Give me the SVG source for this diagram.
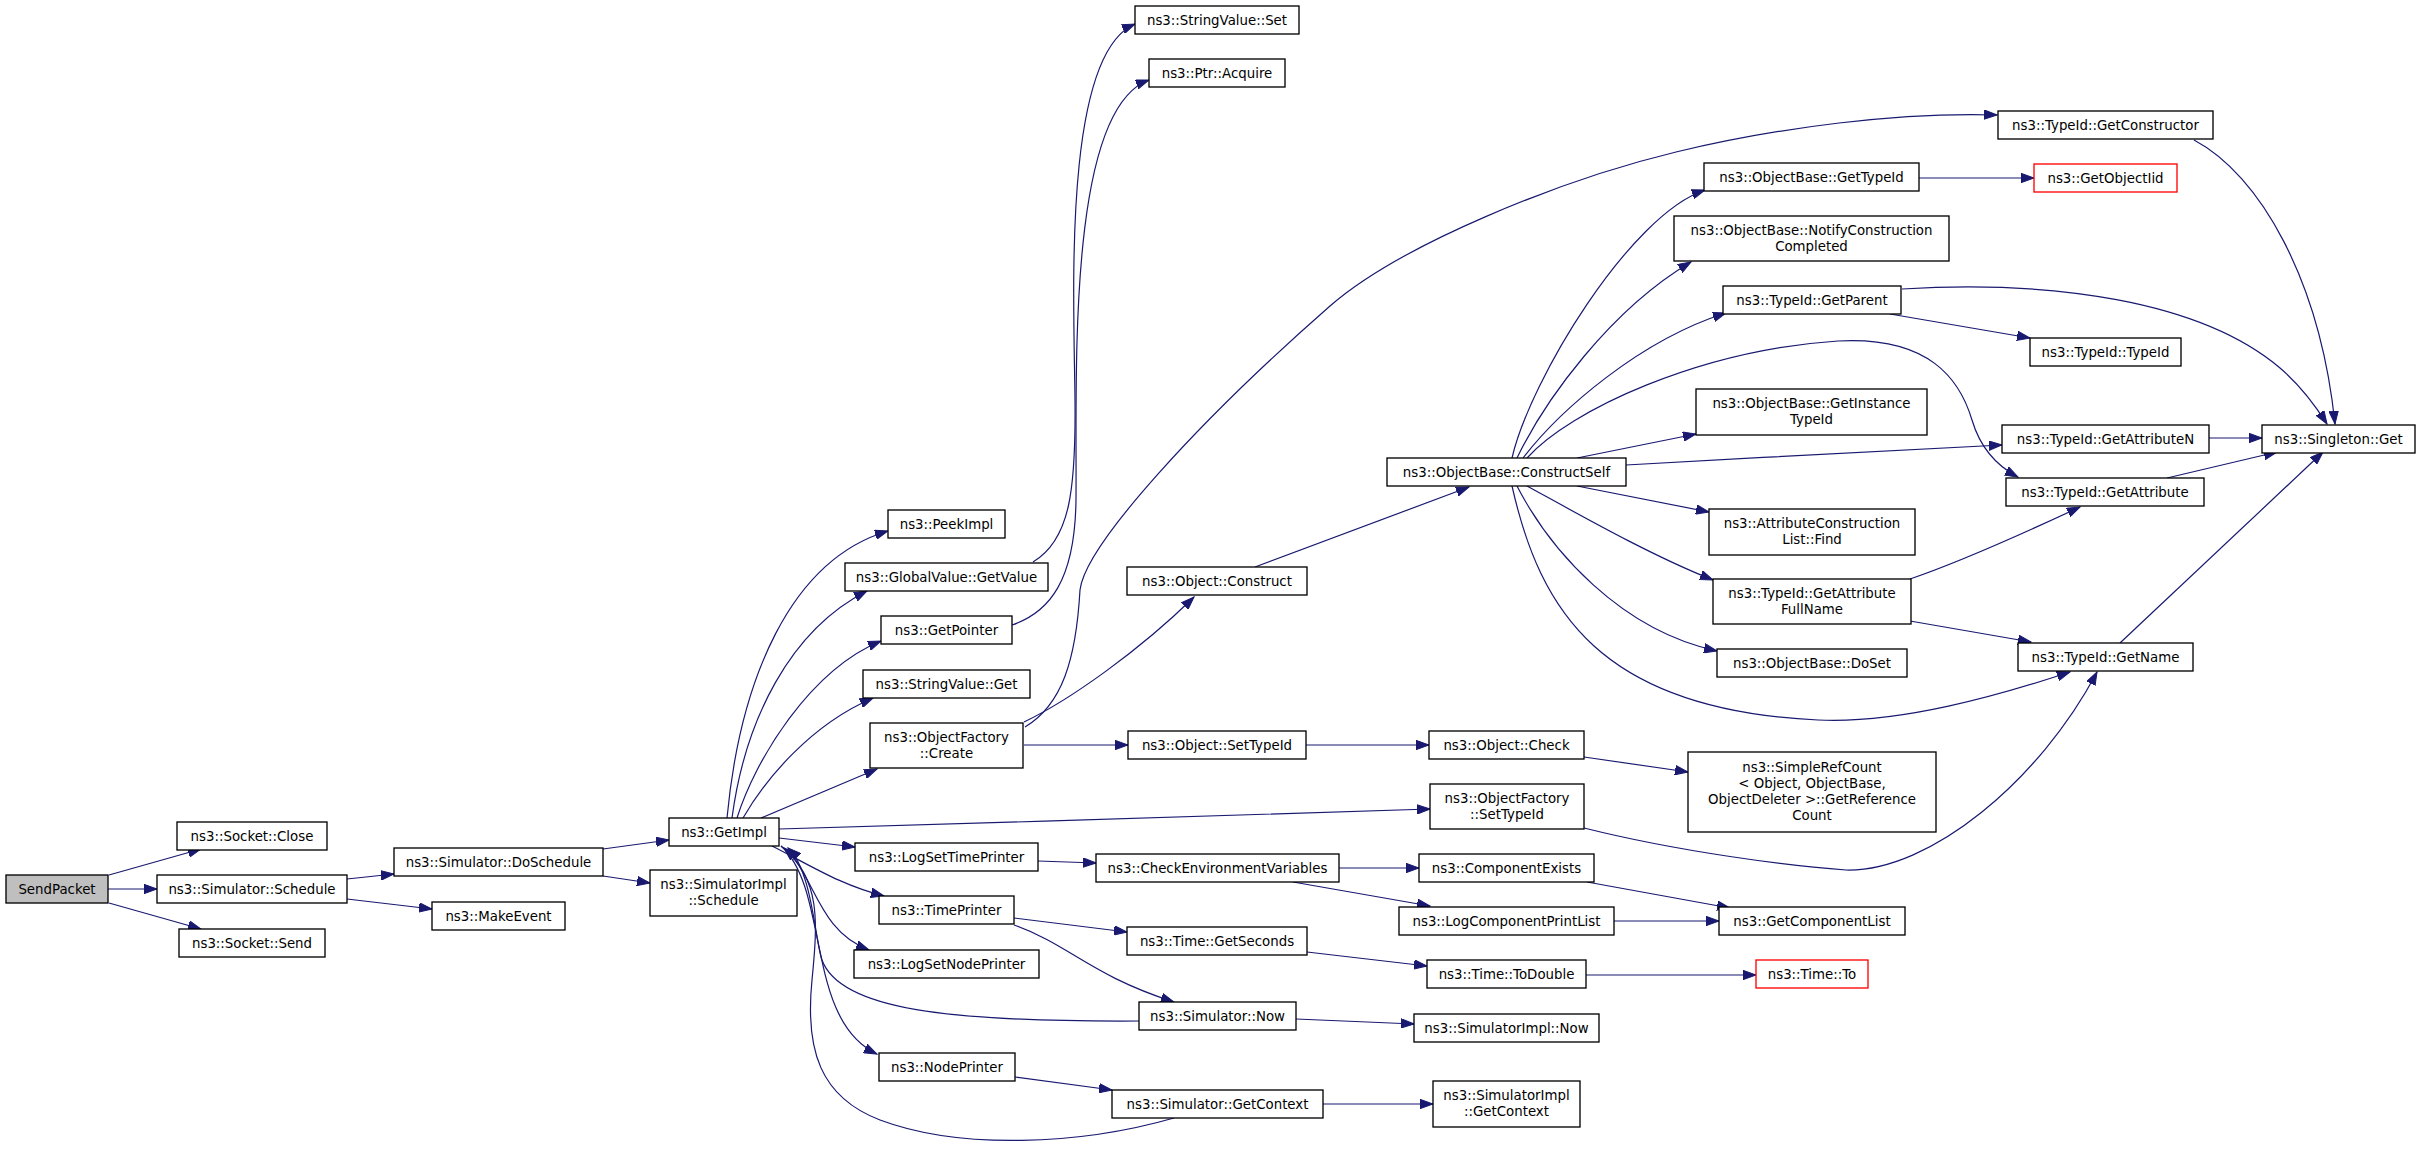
<svg xmlns="http://www.w3.org/2000/svg" width="2421" height="1150" viewBox="0 0 2421 1150">
<style>
.n rect{fill:#fff;stroke:#000;stroke-width:1.33}
.n.root rect{fill:#bfbfbf}
.n.red rect{stroke:#f00}
.n text{font-family:"DejaVu Sans","Liberation Sans",sans-serif;font-size:13.33px;text-anchor:middle;fill:#000}
#edges path{fill:none;stroke:#191970;stroke-width:1.2;marker-end:url(#a)}
</style>
<defs>
<marker id="a" markerUnits="userSpaceOnUse" viewBox="0 0 14 10" markerWidth="14" markerHeight="10" refX="13" refY="5" orient="auto">
<path d="M0,0.3 L13,5 L0,9.7 z" fill="#191970" stroke="#191970" stroke-width="1"/>
</marker>
</defs>
<rect width="2421" height="1150" fill="#fff"/>
<g id="edges">
<path d="M109,875 L201,849"/>
<path d="M108,889 L157,889"/>
<path d="M109,903 L201,929"/>
<path d="M347,879 L394,874"/>
<path d="M347,899 L432,909"/>
<path d="M603,849 L669,840"/>
<path d="M603,876 L650,883"/>
<path d="M727,818 C740,680 790,560 888,531"/>
<path d="M732,818 C745,720 790,630 867,591"/>
<path d="M737,818 C755,760 810,670 881,641"/>
<path d="M743,818 C765,780 810,725 873,698"/>
<path d="M761,818 L877,769"/>
<path d="M779,829 C1000,823 1200,816 1430,809"/>
<path d="M779,838 L855,847"/>
<path d="M772,846 C810,865 840,885 884,896"/>
<path d="M781,846 C815,870 815,930 869,950"/>
<path d="M781,846 C830,890 805,1020 877,1054"/>
<path d="M1033,562 C1070,540 1076,490 1075,400 C1074,300 1062,55 1135,24"/>
<path d="M1012,625 C1050,612 1075,580 1076,500 C1077,380 1066,110 1149,80"/>
<path d="M1025,727 C1062,705 1076,660 1080,590 C1085,545 1200,420 1330,306 C1400,245 1560,180 1676,152 C1780,127 1900,112 1997,115"/>
<path d="M1024,722 C1070,700 1140,650 1194,597"/>
<path d="M1024,745 L1128,745"/>
<path d="M1255,567 L1469,487"/>
<path d="M1306,745 L1429,745"/>
<path d="M1584,757 L1688,772"/>
<path d="M1512,458 C1530,380 1630,215 1705,190"/>
<path d="M1517,458 C1545,400 1610,310 1691,262"/>
<path d="M1523,458 C1560,410 1640,340 1726,313"/>
<path d="M1577,458 L1696,434"/>
<path d="M1626,465 C1750,458 1900,450 2002,445"/>
<path d="M1527,458 C1570,410 1700,350 1838,341 C1930,336 1960,380 1972,420 C1980,447 1995,465 2018,477"/>
<path d="M1577,486 L1709,512"/>
<path d="M1527,486 C1580,515 1650,555 1713,580"/>
<path d="M1517,486 C1550,550 1620,630 1717,651"/>
<path d="M1512,486 C1540,610 1600,710 1818,720 C1900,724 2000,695 2070,672"/>
<path d="M1919,178 L2034,178"/>
<path d="M1890,314 L2030,338"/>
<path d="M1902,289 C2050,280 2200,300 2280,368 C2300,385 2315,405 2327,424"/>
<path d="M2194,140 C2260,175 2320,280 2335,424"/>
<path d="M2208,438 L2262,438"/>
<path d="M2167,478 L2277,452"/>
<path d="M1910,579 C1960,562 2020,535 2080,507"/>
<path d="M1910,621 L2031,642"/>
<path d="M2120,643 L2323,452"/>
<path d="M1584,828 C1680,852 1790,866 1846,870 C1930,872 2040,780 2097,672"/>
<path d="M1038,861 L1096,863"/>
<path d="M1339,868 L1419,868"/>
<path d="M1293,882 L1430,906"/>
<path d="M1587,882 L1730,908"/>
<path d="M1614,921 L1719,921"/>
<path d="M1014,918 L1127,932"/>
<path d="M1014,925 C1070,945 1090,975 1174,1002"/>
<path d="M1307,952 L1427,966"/>
<path d="M1586,975 L1756,975"/>
<path d="M1139,1021 C950,1022 840,1010 822,960 C815,940 812,870 788,848"/>
<path d="M1296,1019 L1414,1024"/>
<path d="M1015,1077 L1112,1090"/>
<path d="M1174,1118 C1080,1145 960,1150 880,1120 C820,1097 805,1050 812,980 C818,920 820,880 784,848"/>
<path d="M1323,1104 L1433,1104"/>
</g>
<g id="n1" class="n root"><rect x="6" y="875" width="102" height="28"/><text x="57" y="893.7">SendPacket</text></g>
<g id="n2" class="n"><rect x="177" y="822" width="150" height="28"/><text x="252" y="840.7">ns3::Socket::Close</text></g>
<g id="n3" class="n"><rect x="157" y="875" width="190" height="28"/><text x="252" y="893.7">ns3::Simulator::Schedule</text></g>
<g id="n4" class="n"><rect x="179" y="929" width="146" height="28"/><text x="252" y="947.7">ns3::Socket::Send</text></g>
<g id="n5" class="n"><rect x="394" y="848" width="209" height="28"/><text x="498.5" y="866.7">ns3::Simulator::DoSchedule</text></g>
<g id="n6" class="n"><rect x="432" y="902" width="133" height="28"/><text x="498.5" y="920.7">ns3::MakeEvent</text></g>
<g id="n7" class="n"><rect x="669" y="818" width="110" height="28"/><text x="724" y="836.7">ns3::GetImpl</text></g>
<g id="n8" class="n"><rect x="650" y="870" width="147" height="46"/><text x="723.5" y="889">ns3::SimulatorImpl</text><text x="723.5" y="905">::Schedule</text></g>
<g id="n9" class="n"><rect x="888" y="510" width="117" height="28"/><text x="946.5" y="528.7">ns3::PeekImpl</text></g>
<g id="n10" class="n"><rect x="845" y="563" width="203" height="28"/><text x="946.5" y="581.7">ns3::GlobalValue::GetValue</text></g>
<g id="n11" class="n"><rect x="881" y="616" width="131" height="28"/><text x="946.5" y="634.7">ns3::GetPointer</text></g>
<g id="n12" class="n"><rect x="863" y="670" width="167" height="28"/><text x="946.5" y="688.7">ns3::StringValue::Get</text></g>
<g id="n13" class="n"><rect x="870" y="723" width="153" height="45"/><text x="946.5" y="741.5">ns3::ObjectFactory</text><text x="946.5" y="757.5">::Create</text></g>
<g id="n14" class="n"><rect x="855" y="843" width="183" height="28"/><text x="946.5" y="861.7">ns3::LogSetTimePrinter</text></g>
<g id="n15" class="n"><rect x="879" y="896" width="135" height="28"/><text x="946.5" y="914.7">ns3::TimePrinter</text></g>
<g id="n16" class="n"><rect x="854" y="950" width="185" height="28"/><text x="946.5" y="968.7">ns3::LogSetNodePrinter</text></g>
<g id="n17" class="n"><rect x="879" y="1053" width="136" height="28"/><text x="947" y="1071.7">ns3::NodePrinter</text></g>
<g id="n18" class="n"><rect x="1135" y="6" width="164" height="28"/><text x="1217" y="24.7">ns3::StringValue::Set</text></g>
<g id="n19" class="n"><rect x="1149" y="59" width="136" height="28"/><text x="1217" y="77.7">ns3::Ptr::Acquire</text></g>
<g id="n20" class="n"><rect x="1127" y="567" width="180" height="28"/><text x="1217" y="585.7">ns3::Object::Construct</text></g>
<g id="n21" class="n"><rect x="1128" y="731" width="178" height="28"/><text x="1217" y="749.7">ns3::Object::SetTypeId</text></g>
<g id="n22" class="n"><rect x="1096" y="854" width="243" height="28"/><text x="1217.5" y="872.7">ns3::CheckEnvironmentVariables</text></g>
<g id="n23" class="n"><rect x="1127" y="927" width="180" height="28"/><text x="1217" y="945.7">ns3::Time::GetSeconds</text></g>
<g id="n24" class="n"><rect x="1139" y="1002" width="157" height="28"/><text x="1217.5" y="1020.7">ns3::Simulator::Now</text></g>
<g id="n25" class="n"><rect x="1112" y="1090" width="211" height="28"/><text x="1217.5" y="1108.7">ns3::Simulator::GetContext</text></g>
<g id="n26" class="n"><rect x="1387" y="458" width="239" height="28"/><text x="1506.5" y="476.7">ns3::ObjectBase::ConstructSelf</text></g>
<g id="n27" class="n"><rect x="1429" y="731" width="155" height="28"/><text x="1506.5" y="749.7">ns3::Object::Check</text></g>
<g id="n28" class="n"><rect x="1430" y="784" width="154" height="45"/><text x="1507" y="802.5">ns3::ObjectFactory</text><text x="1507" y="818.5">::SetTypeId</text></g>
<g id="n29" class="n"><rect x="1419" y="854" width="175" height="28"/><text x="1506.5" y="872.7">ns3::ComponentExists</text></g>
<g id="n30" class="n"><rect x="1399" y="907" width="215" height="28"/><text x="1506.5" y="925.7">ns3::LogComponentPrintList</text></g>
<g id="n31" class="n"><rect x="1427" y="960" width="159" height="28"/><text x="1506.5" y="978.7">ns3::Time::ToDouble</text></g>
<g id="n32" class="n"><rect x="1414" y="1014" width="185" height="28"/><text x="1506.5" y="1032.7">ns3::SimulatorImpl::Now</text></g>
<g id="n33" class="n"><rect x="1433" y="1081" width="147" height="46"/><text x="1506.5" y="1100">ns3::SimulatorImpl</text><text x="1506.5" y="1116">::GetContext</text></g>
<g id="n34" class="n"><rect x="1704" y="163" width="215" height="28"/><text x="1811.5" y="181.7">ns3::ObjectBase::GetTypeId</text></g>
<g id="n35" class="n"><rect x="1674" y="216" width="275" height="45"/><text x="1811.5" y="234.5">ns3::ObjectBase::NotifyConstruction</text><text x="1811.5" y="250.5">Completed</text></g>
<g id="n36" class="n"><rect x="1723" y="286" width="178" height="28"/><text x="1812" y="304.7">ns3::TypeId::GetParent</text></g>
<g id="n37" class="n"><rect x="1696" y="389" width="231" height="46"/><text x="1811.5" y="408">ns3::ObjectBase::GetInstance</text><text x="1811.5" y="424">TypeId</text></g>
<g id="n38" class="n"><rect x="1709" y="509" width="206" height="46"/><text x="1812" y="528">ns3::AttributeConstruction</text><text x="1812" y="544">List::Find</text></g>
<g id="n39" class="n"><rect x="1713" y="579" width="198" height="45"/><text x="1812" y="597.5">ns3::TypeId::GetAttribute</text><text x="1812" y="613.5">FullName</text></g>
<g id="n40" class="n"><rect x="1717" y="649" width="190" height="28"/><text x="1812" y="667.7">ns3::ObjectBase::DoSet</text></g>
<g id="n41" class="n"><rect x="1688" y="752" width="248" height="80"/><text x="1812" y="772">ns3::SimpleRefCount</text><text x="1812" y="788">&lt; Object, ObjectBase,</text><text x="1812" y="804"> ObjectDeleter &gt;::GetReference</text><text x="1812" y="820">Count</text></g>
<g id="n42" class="n"><rect x="1719" y="907" width="186" height="28"/><text x="1812" y="925.7">ns3::GetComponentList</text></g>
<g id="n43" class="n red"><rect x="1756" y="960" width="112" height="28"/><text x="1812" y="978.7">ns3::Time::To</text></g>
<g id="n44" class="n"><rect x="1998" y="111" width="215" height="28"/><text x="2105.5" y="129.7">ns3::TypeId::GetConstructor</text></g>
<g id="n45" class="n red"><rect x="2034" y="164" width="143" height="28"/><text x="2105.5" y="182.7">ns3::GetObjectIid</text></g>
<g id="n46" class="n"><rect x="2030" y="338" width="151" height="28"/><text x="2105.5" y="356.7">ns3::TypeId::TypeId</text></g>
<g id="n47" class="n"><rect x="2002" y="425" width="207" height="28"/><text x="2105.5" y="443.7">ns3::TypeId::GetAttributeN</text></g>
<g id="n48" class="n"><rect x="2006" y="478" width="198" height="28"/><text x="2105" y="496.7">ns3::TypeId::GetAttribute</text></g>
<g id="n49" class="n"><rect x="2018" y="643" width="175" height="28"/><text x="2105.5" y="661.7">ns3::TypeId::GetName</text></g>
<g id="n50" class="n"><rect x="2262" y="425" width="153" height="28"/><text x="2338.5" y="443.7">ns3::Singleton::Get</text></g>
</svg>
